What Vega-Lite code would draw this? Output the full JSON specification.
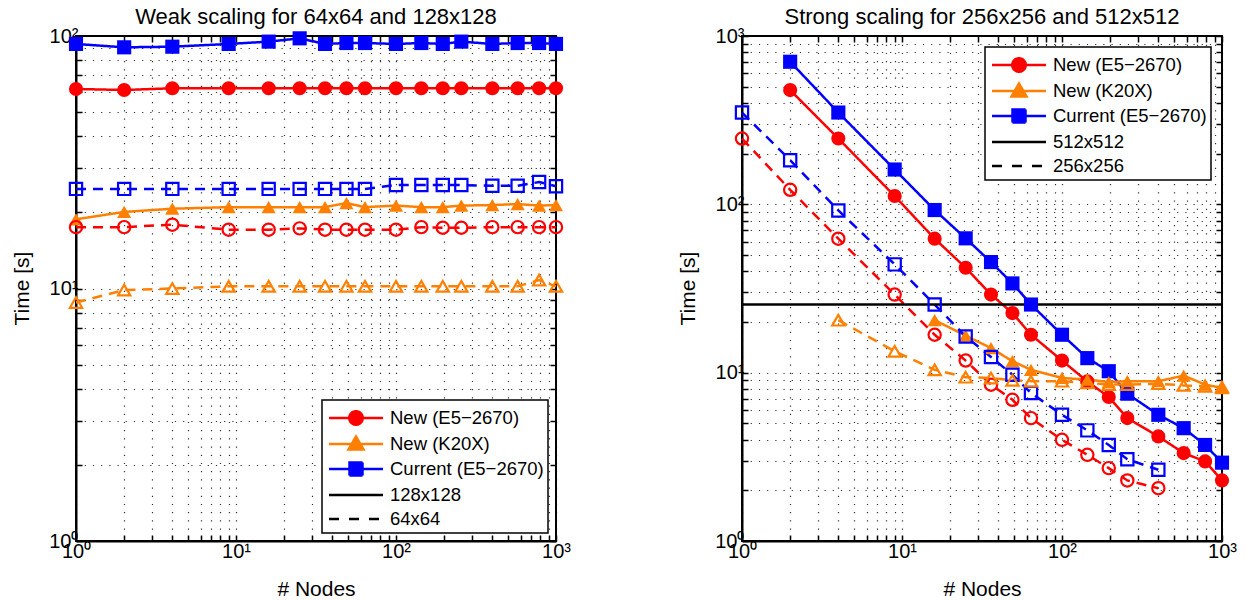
{
  "$schema": "https://vega.github.io/schema/vega-lite/v6.json",
  "padding": {"left": 10, "top": 5, "right": 5, "bottom": 0},
  "spacing": 104,
  "config": {
    "font": "Liberation Sans",
    "view": {"stroke": "#000", "strokeWidth": 2},
    "axis": {
      "domainColor": "#000", "domainWidth": 2,
      "tickColor": "#000", "tickWidth": 1.5, "tickSize": -6,
      "grid": true, "gridColor": "#000", "gridDash": [1.2, 7], "gridWidth": 1.2, "gridOpacity": 0.8,
      "labelFont": "Liberation Sans", "labelFontSize": 20, "labelColor": "#000",
      "titleFont": "Liberation Sans", "titleFontSize": 21, "titleFontWeight": "normal", "titleColor": "#000",
      "labelOverlap": false, "labelFlush": false, "labelBound": false
    },
    "title": {"font": "Liberation Sans", "fontSize": 22, "fontWeight": "normal", "color": "#000", "baseline": "alphabetic", "offset": -3, "anchor": "middle"},
    "legend": {
      "labelFont": "Liberation Sans", "labelFontSize": 18.5, "labelColor": "#000", "labelLimit": 400,
      "symbolSize": 625, "symbolStrokeWidth": 2.5, "symbolOffset": 16, "labelOffset": 20,
      "rowPadding": 0, "padding": 4,
      "strokeColor": "#000", "fillColor": "#fff", "cornerRadius": 0
    }
  },
  "datasets": {
    "weak": [
      {"n": 1, "t": 93, "m": "Current (E5−2670)", "s": "128x128"},
      {"n": 2, "t": 90.2, "m": "Current (E5−2670)", "s": "128x128"},
      {"n": 4, "t": 90.7, "m": "Current (E5−2670)", "s": "128x128"},
      {"n": 9, "t": 93, "m": "Current (E5−2670)", "s": "128x128"},
      {"n": 16, "t": 95, "m": "Current (E5−2670)", "s": "128x128"},
      {"n": 25, "t": 97.9, "m": "Current (E5−2670)", "s": "128x128"},
      {"n": 36, "t": 93, "m": "Current (E5−2670)", "s": "128x128"},
      {"n": 49, "t": 93.8, "m": "Current (E5−2670)", "s": "128x128"},
      {"n": 64, "t": 93.8, "m": "Current (E5−2670)", "s": "128x128"},
      {"n": 100, "t": 93, "m": "Current (E5−2670)", "s": "128x128"},
      {"n": 144, "t": 93.8, "m": "Current (E5−2670)", "s": "128x128"},
      {"n": 196, "t": 93, "m": "Current (E5−2670)", "s": "128x128"},
      {"n": 256, "t": 95, "m": "Current (E5−2670)", "s": "128x128"},
      {"n": 400, "t": 93, "m": "Current (E5−2670)", "s": "128x128"},
      {"n": 576, "t": 93.8, "m": "Current (E5−2670)", "s": "128x128"},
      {"n": 784, "t": 93.8, "m": "Current (E5−2670)", "s": "128x128"},
      {"n": 1000, "t": 93, "m": "Current (E5−2670)", "s": "128x128"},

      {"n": 1, "t": 61.7, "m": "New (E5−2670)", "s": "128x128"},
      {"n": 2, "t": 61.1, "m": "New (E5−2670)", "s": "128x128"},
      {"n": 4, "t": 62.1, "m": "New (E5−2670)", "s": "128x128"},
      {"n": 9, "t": 62.1, "m": "New (E5−2670)", "s": "128x128"},
      {"n": 16, "t": 62.1, "m": "New (E5−2670)", "s": "128x128"},
      {"n": 25, "t": 62.1, "m": "New (E5−2670)", "s": "128x128"},
      {"n": 36, "t": 62.1, "m": "New (E5−2670)", "s": "128x128"},
      {"n": 49, "t": 62.1, "m": "New (E5−2670)", "s": "128x128"},
      {"n": 64, "t": 62.1, "m": "New (E5−2670)", "s": "128x128"},
      {"n": 100, "t": 62.1, "m": "New (E5−2670)", "s": "128x128"},
      {"n": 144, "t": 62.1, "m": "New (E5−2670)", "s": "128x128"},
      {"n": 196, "t": 62.1, "m": "New (E5−2670)", "s": "128x128"},
      {"n": 256, "t": 62.1, "m": "New (E5−2670)", "s": "128x128"},
      {"n": 400, "t": 62.1, "m": "New (E5−2670)", "s": "128x128"},
      {"n": 576, "t": 62.1, "m": "New (E5−2670)", "s": "128x128"},
      {"n": 784, "t": 62.1, "m": "New (E5−2670)", "s": "128x128"},
      {"n": 1000, "t": 62.1, "m": "New (E5−2670)", "s": "128x128"},

      {"n": 1, "t": 18.8, "m": "New (K20X)", "s": "128x128"},
      {"n": 2, "t": 20.1, "m": "New (K20X)", "s": "128x128"},
      {"n": 4, "t": 20.7, "m": "New (K20X)", "s": "128x128"},
      {"n": 9, "t": 21.0, "m": "New (K20X)", "s": "128x128"},
      {"n": 16, "t": 21.0, "m": "New (K20X)", "s": "128x128"},
      {"n": 25, "t": 21.0, "m": "New (K20X)", "s": "128x128"},
      {"n": 36, "t": 21.0, "m": "New (K20X)", "s": "128x128"},
      {"n": 49, "t": 21.8, "m": "New (K20X)", "s": "128x128"},
      {"n": 64, "t": 21.0, "m": "New (K20X)", "s": "128x128"},
      {"n": 100, "t": 21.3, "m": "New (K20X)", "s": "128x128"},
      {"n": 144, "t": 21.0, "m": "New (K20X)", "s": "128x128"},
      {"n": 196, "t": 21.0, "m": "New (K20X)", "s": "128x128"},
      {"n": 256, "t": 21.3, "m": "New (K20X)", "s": "128x128"},
      {"n": 400, "t": 21.4, "m": "New (K20X)", "s": "128x128"},
      {"n": 576, "t": 21.6, "m": "New (K20X)", "s": "128x128"},
      {"n": 784, "t": 21.3, "m": "New (K20X)", "s": "128x128"},
      {"n": 1000, "t": 21.4, "m": "New (K20X)", "s": "128x128"},

      {"n": 1, "t": 24.8, "m": "Current (E5−2670)", "s": "64x64"},
      {"n": 2, "t": 24.8, "m": "Current (E5−2670)", "s": "64x64"},
      {"n": 4, "t": 24.8, "m": "Current (E5−2670)", "s": "64x64"},
      {"n": 9, "t": 24.8, "m": "Current (E5−2670)", "s": "64x64"},
      {"n": 16, "t": 24.8, "m": "Current (E5−2670)", "s": "64x64"},
      {"n": 25, "t": 24.8, "m": "Current (E5−2670)", "s": "64x64"},
      {"n": 36, "t": 24.8, "m": "Current (E5−2670)", "s": "64x64"},
      {"n": 49, "t": 24.8, "m": "Current (E5−2670)", "s": "64x64"},
      {"n": 64, "t": 24.8, "m": "Current (E5−2670)", "s": "64x64"},
      {"n": 100, "t": 25.7, "m": "Current (E5−2670)", "s": "64x64"},
      {"n": 144, "t": 25.7, "m": "Current (E5−2670)", "s": "64x64"},
      {"n": 196, "t": 25.7, "m": "Current (E5−2670)", "s": "64x64"},
      {"n": 256, "t": 25.7, "m": "Current (E5−2670)", "s": "64x64"},
      {"n": 400, "t": 25.5, "m": "Current (E5−2670)", "s": "64x64"},
      {"n": 576, "t": 25.5, "m": "Current (E5−2670)", "s": "64x64"},
      {"n": 784, "t": 26.4, "m": "Current (E5−2670)", "s": "64x64"},
      {"n": 1000, "t": 25.4, "m": "Current (E5−2670)", "s": "64x64"},

      {"n": 1, "t": 17.5, "m": "New (E5−2670)", "s": "64x64"},
      {"n": 2, "t": 17.5, "m": "New (E5−2670)", "s": "64x64"},
      {"n": 4, "t": 17.9, "m": "New (E5−2670)", "s": "64x64"},
      {"n": 9, "t": 17.1, "m": "New (E5−2670)", "s": "64x64"},
      {"n": 16, "t": 17.1, "m": "New (E5−2670)", "s": "64x64"},
      {"n": 25, "t": 17.3, "m": "New (E5−2670)", "s": "64x64"},
      {"n": 36, "t": 17.1, "m": "New (E5−2670)", "s": "64x64"},
      {"n": 49, "t": 17.1, "m": "New (E5−2670)", "s": "64x64"},
      {"n": 64, "t": 17.1, "m": "New (E5−2670)", "s": "64x64"},
      {"n": 100, "t": 17.1, "m": "New (E5−2670)", "s": "64x64"},
      {"n": 144, "t": 17.5, "m": "New (E5−2670)", "s": "64x64"},
      {"n": 196, "t": 17.4, "m": "New (E5−2670)", "s": "64x64"},
      {"n": 256, "t": 17.4, "m": "New (E5−2670)", "s": "64x64"},
      {"n": 400, "t": 17.5, "m": "New (E5−2670)", "s": "64x64"},
      {"n": 576, "t": 17.5, "m": "New (E5−2670)", "s": "64x64"},
      {"n": 784, "t": 17.5, "m": "New (E5−2670)", "s": "64x64"},
      {"n": 1000, "t": 17.5, "m": "New (E5−2670)", "s": "64x64"},

      {"n": 1, "t": 8.8, "m": "New (K20X)", "s": "64x64"},
      {"n": 2, "t": 9.86, "m": "New (K20X)", "s": "64x64"},
      {"n": 4, "t": 10.0, "m": "New (K20X)", "s": "64x64"},
      {"n": 9, "t": 10.2, "m": "New (K20X)", "s": "64x64"},
      {"n": 16, "t": 10.2, "m": "New (K20X)", "s": "64x64"},
      {"n": 25, "t": 10.2, "m": "New (K20X)", "s": "64x64"},
      {"n": 36, "t": 10.2, "m": "New (K20X)", "s": "64x64"},
      {"n": 49, "t": 10.2, "m": "New (K20X)", "s": "64x64"},
      {"n": 64, "t": 10.2, "m": "New (K20X)", "s": "64x64"},
      {"n": 100, "t": 10.2, "m": "New (K20X)", "s": "64x64"},
      {"n": 144, "t": 10.2, "m": "New (K20X)", "s": "64x64"},
      {"n": 196, "t": 10.2, "m": "New (K20X)", "s": "64x64"},
      {"n": 256, "t": 10.2, "m": "New (K20X)", "s": "64x64"},
      {"n": 400, "t": 10.2, "m": "New (K20X)", "s": "64x64"},
      {"n": 576, "t": 10.2, "m": "New (K20X)", "s": "64x64"},
      {"n": 784, "t": 10.8, "m": "New (K20X)", "s": "64x64"},
      {"n": 1000, "t": 10.2, "m": "New (K20X)", "s": "64x64"}
    ],
    "strong": [
      {"n": 2, "t": 703, "m": "Current (E5−2670)", "s": "512x512"},
      {"n": 4, "t": 351, "m": "Current (E5−2670)", "s": "512x512"},
      {"n": 9, "t": 161, "m": "Current (E5−2670)", "s": "512x512"},
      {"n": 16, "t": 92.5, "m": "Current (E5−2670)", "s": "512x512"},
      {"n": 25, "t": 62.8, "m": "Current (E5−2670)", "s": "512x512"},
      {"n": 36, "t": 45.4, "m": "Current (E5−2670)", "s": "512x512"},
      {"n": 49, "t": 33.9, "m": "Current (E5−2670)", "s": "512x512"},
      {"n": 64, "t": 25.4, "m": "Current (E5−2670)", "s": "512x512"},
      {"n": 100, "t": 16.8, "m": "Current (E5−2670)", "s": "512x512"},
      {"n": 144, "t": 12.2, "m": "Current (E5−2670)", "s": "512x512"},
      {"n": 196, "t": 10.2, "m": "Current (E5−2670)", "s": "512x512"},
      {"n": 256, "t": 7.5, "m": "Current (E5−2670)", "s": "512x512"},
      {"n": 400, "t": 5.62, "m": "Current (E5−2670)", "s": "512x512"},
      {"n": 576, "t": 4.68, "m": "Current (E5−2670)", "s": "512x512"},
      {"n": 784, "t": 3.72, "m": "Current (E5−2670)", "s": "512x512"},
      {"n": 1000, "t": 2.92, "m": "Current (E5−2670)", "s": "512x512"},

      {"n": 2, "t": 477, "m": "New (E5−2670)", "s": "512x512"},
      {"n": 4, "t": 246, "m": "New (E5−2670)", "s": "512x512"},
      {"n": 9, "t": 112, "m": "New (E5−2670)", "s": "512x512"},
      {"n": 16, "t": 62.5, "m": "New (E5−2670)", "s": "512x512"},
      {"n": 25, "t": 42, "m": "New (E5−2670)", "s": "512x512"},
      {"n": 36, "t": 29.1, "m": "New (E5−2670)", "s": "512x512"},
      {"n": 49, "t": 22.6, "m": "New (E5−2670)", "s": "512x512"},
      {"n": 64, "t": 16.8, "m": "New (E5−2670)", "s": "512x512"},
      {"n": 100, "t": 11.8, "m": "New (E5−2670)", "s": "512x512"},
      {"n": 144, "t": 8.87, "m": "New (E5−2670)", "s": "512x512"},
      {"n": 196, "t": 7.17, "m": "New (E5−2670)", "s": "512x512"},
      {"n": 256, "t": 5.37, "m": "New (E5−2670)", "s": "512x512"},
      {"n": 400, "t": 4.18, "m": "New (E5−2670)", "s": "512x512"},
      {"n": 576, "t": 3.33, "m": "New (E5−2670)", "s": "512x512"},
      {"n": 784, "t": 2.97, "m": "New (E5−2670)", "s": "512x512"},
      {"n": 1000, "t": 2.29, "m": "New (E5−2670)", "s": "512x512"},

      {"n": 16, "t": 20.5, "m": "New (K20X)", "s": "512x512"},
      {"n": 25, "t": 16.6, "m": "New (K20X)", "s": "512x512"},
      {"n": 36, "t": 14.0, "m": "New (K20X)", "s": "512x512"},
      {"n": 49, "t": 11.7, "m": "New (K20X)", "s": "512x512"},
      {"n": 64, "t": 10.4, "m": "New (K20X)", "s": "512x512"},
      {"n": 100, "t": 9.3, "m": "New (K20X)", "s": "512x512"},
      {"n": 144, "t": 9.1, "m": "New (K20X)", "s": "512x512"},
      {"n": 196, "t": 8.8, "m": "New (K20X)", "s": "512x512"},
      {"n": 256, "t": 8.9, "m": "New (K20X)", "s": "512x512"},
      {"n": 400, "t": 8.9, "m": "New (K20X)", "s": "512x512"},
      {"n": 576, "t": 9.6, "m": "New (K20X)", "s": "512x512"},
      {"n": 784, "t": 8.5, "m": "New (K20X)", "s": "512x512"},
      {"n": 1000, "t": 8.1, "m": "New (K20X)", "s": "512x512"},

      {"n": 1, "t": 351, "m": "Current (E5−2670)", "s": "256x256"},
      {"n": 2, "t": 183, "m": "Current (E5−2670)", "s": "256x256"},
      {"n": 4, "t": 92, "m": "Current (E5−2670)", "s": "256x256"},
      {"n": 9, "t": 44, "m": "Current (E5−2670)", "s": "256x256"},
      {"n": 16, "t": 25.4, "m": "Current (E5−2670)", "s": "256x256"},
      {"n": 25, "t": 16.4, "m": "Current (E5−2670)", "s": "256x256"},
      {"n": 36, "t": 12.4, "m": "Current (E5−2670)", "s": "256x256"},
      {"n": 49, "t": 9.73, "m": "Current (E5−2670)", "s": "256x256"},
      {"n": 64, "t": 7.57, "m": "Current (E5−2670)", "s": "256x256"},
      {"n": 100, "t": 5.62, "m": "Current (E5−2670)", "s": "256x256"},
      {"n": 144, "t": 4.54, "m": "Current (E5−2670)", "s": "256x256"},
      {"n": 196, "t": 3.72, "m": "Current (E5−2670)", "s": "256x256"},
      {"n": 256, "t": 3.06, "m": "Current (E5−2670)", "s": "256x256"},
      {"n": 400, "t": 2.65, "m": "Current (E5−2670)", "s": "256x256"},

      {"n": 1, "t": 246, "m": "New (E5−2670)", "s": "256x256"},
      {"n": 2, "t": 122, "m": "New (E5−2670)", "s": "256x256"},
      {"n": 4, "t": 62.5, "m": "New (E5−2670)", "s": "256x256"},
      {"n": 9, "t": 29.1, "m": "New (E5−2670)", "s": "256x256"},
      {"n": 16, "t": 16.8, "m": "New (E5−2670)", "s": "256x256"},
      {"n": 25, "t": 11.8, "m": "New (E5−2670)", "s": "256x256"},
      {"n": 36, "t": 8.48, "m": "New (E5−2670)", "s": "256x256"},
      {"n": 49, "t": 6.9, "m": "New (E5−2670)", "s": "256x256"},
      {"n": 64, "t": 5.37, "m": "New (E5−2670)", "s": "256x256"},
      {"n": 100, "t": 3.99, "m": "New (E5−2670)", "s": "256x256"},
      {"n": 144, "t": 3.25, "m": "New (E5−2670)", "s": "256x256"},
      {"n": 196, "t": 2.71, "m": "New (E5−2670)", "s": "256x256"},
      {"n": 256, "t": 2.29, "m": "New (E5−2670)", "s": "256x256"},
      {"n": 400, "t": 2.06, "m": "New (E5−2670)", "s": "256x256"},

      {"n": 4, "t": 20.5, "m": "New (K20X)", "s": "256x256"},
      {"n": 9, "t": 13.4, "m": "New (K20X)", "s": "256x256"},
      {"n": 16, "t": 10.4, "m": "New (K20X)", "s": "256x256"},
      {"n": 25, "t": 9.4, "m": "New (K20X)", "s": "256x256"},
      {"n": 36, "t": 9.3, "m": "New (K20X)", "s": "256x256"},
      {"n": 49, "t": 9.0, "m": "New (K20X)", "s": "256x256"},
      {"n": 64, "t": 8.9, "m": "New (K20X)", "s": "256x256"},
      {"n": 100, "t": 8.9, "m": "New (K20X)", "s": "256x256"},
      {"n": 144, "t": 8.7, "m": "New (K20X)", "s": "256x256"},
      {"n": 196, "t": 8.5, "m": "New (K20X)", "s": "256x256"},
      {"n": 256, "t": 8.5, "m": "New (K20X)", "s": "256x256"},
      {"n": 400, "t": 8.6, "m": "New (K20X)", "s": "256x256"},
      {"n": 576, "t": 8.4, "m": "New (K20X)", "s": "256x256"},
      {"n": 784, "t": 8.3, "m": "New (K20X)", "s": "256x256"},
      {"n": 1000, "t": 8.2, "m": "New (K20X)", "s": "256x256"}
    ],
    "strongref": [
      {"t": 25.4, "m": "512x512"}
    ]
  },
  "resolve": {"scale": {"color": "independent", "shape": "independent", "strokeDash": "independent", "y": "independent", "x": "independent"}, "legend": {"color": "independent"}},
  "hconcat": [
    {
      "title": "Weak scaling for 64x64 and 128x128",
      "width": 480, "height": 505,
      "data": {"name": "weak"},
      "resolve": {"axis": {"x": "independent", "y": "independent"}},
      "layer": [
        {
          "mark": {"type": "line", "strokeWidth": 2.5},
          "encoding": {
            "x": {"field": "n", "type": "quantitative", "scale": {"type": "log", "domain": [1, 1000]},
                  "axis": {"orient": "top", "labels": false, "grid": false, "title": null, "domain": false,
                           "values": [1,2,3,4,5,6,7,8,9,10,20,30,40,50,60,70,80,90,100,200,300,400,500,600,700,800,900,1000]}},
            "y": {"field": "t", "type": "quantitative", "scale": {"type": "log", "domain": [1, 100]},
                  "axis": {"orient": "right", "labels": false, "grid": false, "title": null, "domain": false,
                           "values": [1,2,3,4,5,6,7,8,9,10,20,30,40,50,60,70,80,90,100]}},
            "color": {"field": "m", "type": "nominal",
                      "scale": {"domain": ["New (E5−2670)", "New (K20X)", "Current (E5−2670)", "128x128", "64x64"], "range": ["#ff0000", "#ff8000", "#0000ff", "#000000", "#000000"]},
                      "legend": {"orient": "bottom-right", "offset": 8, "title": null,
                        "encode": {
                          "legend": {"update": {"stroke": {"value": "#000"}, "strokeWidth": {"value": 1.5}, "fill": {"value": "#fff"}}},
                          "symbols": {"update": {
                            "shape": {"signal": "datum.value === 'New (E5−2670)' ? 'M-2.16,0H2.16M-0.54,0A0.54,0.54,0,1,1,0.54,0A0.54,0.54,0,1,1,-0.54,0Z' : datum.value === 'New (K20X)' ? 'M-2.16,0H2.16M0,-0.6L0.6,0.44L-0.6,0.44Z' : datum.value === 'Current (E5−2670)' ? 'M-2.16,0H2.16M-0.52,-0.52H0.52V0.52H-0.52Z' : 'M-2.16,0H2.16'"},
                            "stroke": {"signal": "datum.value === 'New (E5−2670)' ? '#ff0000' : datum.value === 'New (K20X)' ? '#ff8000' : datum.value === 'Current (E5−2670)' ? '#0000ff' : '#000000'"},
                            "fill": {"signal": "datum.value === 'New (E5−2670)' ? '#ff0000' : datum.value === 'New (K20X)' ? '#ff8000' : datum.value === 'Current (E5−2670)' ? '#0000ff' : '#000000'"},
                            "strokeDash": {"signal": "datum.value === '64x64' ? [10, 10] : [1, 0]"},
                            "strokeWidth": {"value": 2.5},
                            "opacity": {"value": 1}
                          }}
                        }}},
            "strokeDash": {"field": "s", "type": "nominal", "scale": {"domain": ["128x128", "64x64"], "range": [[1, 0], [10, 7]]}, "legend": null}
          }
        },
        {
          "transform": [{"filter": "datum.s === '128x128'"}],
          "mark": {"type": "point", "filled": true, "size": 200, "opacity": 1},
          "encoding": {
            "x": {"field": "n", "type": "quantitative", "scale": {"type": "log", "domain": [1, 1000]},
                  "axis": {"orient": "bottom", "grid": true, "title": "# Nodes", "titleBaseline": "alphabetic", "titleY": 54, "labelPadding": 6,
                           "values": [1,2,3,4,5,6,7,8,9,10,20,30,40,50,60,70,80,90,100,200,300,400,500,600,700,800,900,1000],
                           "labelExpr": "datum.value == 1 ? '10⁰' : datum.value == 10 ? '10¹' : datum.value == 100 ? '10²' : datum.value == 1000 ? '10³' : ''"}},
            "y": {"field": "t", "type": "quantitative", "scale": {"type": "log", "domain": [1, 100]},
                  "axis": {"orient": "left", "grid": true, "title": "Time [s]", "titleBaseline": "alphabetic", "titleX": -48, "titleY": 252, "labelPadding": 4,
                           "values": [1,2,3,4,5,6,7,8,9,10,20,30,40,50,60,70,80,90,100],
                           "labelExpr": "datum.value == 1 ? '10⁰' : datum.value == 10 ? '10¹' : datum.value == 100 ? '10²' : datum.value == 1000 ? '10³' : ''"}},
            "color": {"field": "m", "type": "nominal",
                      "scale": {"domain": ["New (E5−2670)", "New (K20X)", "Current (E5−2670)", "128x128", "64x64"], "range": ["#ff0000", "#ff8000", "#0000ff", "#000000", "#000000"]}},
            "shape": {"field": "m", "type": "nominal", "scale": {"domain": ["New (E5−2670)", "New (K20X)", "Current (E5−2670)"], "range": ["circle", "triangle-up", "square"]}, "legend": null}
          }
        },
        {
          "transform": [{"filter": "datum.s === '64x64'"}],
          "mark": {"type": "point", "filled": false, "size": 150, "opacity": 1, "strokeWidth": 2.2},
          "encoding": {
            "x": {"field": "n", "type": "quantitative", "scale": {"type": "log", "domain": [1, 1000]}, "axis": null},
            "y": {"field": "t", "type": "quantitative", "scale": {"type": "log", "domain": [1, 100]}, "axis": null},
            "color": {"field": "m", "type": "nominal",
                      "scale": {"domain": ["New (E5−2670)", "New (K20X)", "Current (E5−2670)", "128x128", "64x64"], "range": ["#ff0000", "#ff8000", "#0000ff", "#000000", "#000000"]}},
            "shape": {"field": "m", "type": "nominal", "scale": {"domain": ["New (E5−2670)", "New (K20X)", "Current (E5−2670)"], "range": ["circle", "triangle-up", "square"]}, "legend": null}
          }
        }
      ]
    },
    {
      "title": "Strong scaling for 256x256 and 512x512",
      "width": 480, "height": 505,
      "data": {"name": "strong"},
      "resolve": {"axis": {"x": "independent", "y": "independent"}},
      "layer": [
        {
          "mark": {"type": "line", "strokeWidth": 2.5},
          "encoding": {
            "x": {"field": "n", "type": "quantitative", "scale": {"type": "log", "domain": [1, 1000]},
                  "axis": {"orient": "top", "labels": false, "grid": false, "title": null, "domain": false,
                           "values": [1,2,3,4,5,6,7,8,9,10,20,30,40,50,60,70,80,90,100,200,300,400,500,600,700,800,900,1000]}},
            "y": {"field": "t", "type": "quantitative", "scale": {"type": "log", "domain": [1, 1000]},
                  "axis": {"orient": "right", "labels": false, "grid": false, "title": null, "domain": false,
                           "values": [1,2,3,4,5,6,7,8,9,10,20,30,40,50,60,70,80,90,100,200,300,400,500,600,700,800,900,1000]}},
            "color": {"field": "m", "type": "nominal",
                      "scale": {"domain": ["New (E5−2670)", "New (K20X)", "Current (E5−2670)", "512x512", "256x256"], "range": ["#ff0000", "#ff8000", "#0000ff", "#000000", "#000000"]},
                      "legend": {"orient": "top-right", "offset": 11, "title": null,
                        "encode": {
                          "legend": {"update": {"stroke": {"value": "#000"}, "strokeWidth": {"value": 1.5}, "fill": {"value": "#fff"}}},
                          "symbols": {"update": {
                            "shape": {"signal": "datum.value === 'New (E5−2670)' ? 'M-2.16,0H2.16M-0.54,0A0.54,0.54,0,1,1,0.54,0A0.54,0.54,0,1,1,-0.54,0Z' : datum.value === 'New (K20X)' ? 'M-2.16,0H2.16M0,-0.6L0.6,0.44L-0.6,0.44Z' : datum.value === 'Current (E5−2670)' ? 'M-2.16,0H2.16M-0.52,-0.52H0.52V0.52H-0.52Z' : 'M-2.16,0H2.16'"},
                            "stroke": {"signal": "datum.value === 'New (E5−2670)' ? '#ff0000' : datum.value === 'New (K20X)' ? '#ff8000' : datum.value === 'Current (E5−2670)' ? '#0000ff' : '#000000'"},
                            "fill": {"signal": "datum.value === 'New (E5−2670)' ? '#ff0000' : datum.value === 'New (K20X)' ? '#ff8000' : datum.value === 'Current (E5−2670)' ? '#0000ff' : '#000000'"},
                            "strokeDash": {"signal": "datum.value === '256x256' ? [10, 10] : [1, 0]"},
                            "strokeWidth": {"value": 2.5},
                            "opacity": {"value": 1}
                          }}
                        }}},
            "strokeDash": {"field": "s", "type": "nominal", "scale": {"domain": ["512x512", "256x256"], "range": [[1, 0], [10, 7]]}, "legend": null}
          }
        },
        {
          "data": {"name": "strongref"},
          "mark": {"type": "rule", "strokeWidth": 2.5},
          "encoding": {
            "y": {"field": "t", "type": "quantitative", "scale": {"type": "log", "domain": [1, 1000]}, "axis": null},
            "color": {"field": "m", "type": "nominal",
                      "scale": {"domain": ["New (E5−2670)", "New (K20X)", "Current (E5−2670)", "512x512", "256x256"], "range": ["#ff0000", "#ff8000", "#0000ff", "#000000", "#000000"]}}
          }
        },
        {
          "transform": [{"filter": "datum.s === '512x512'"}],
          "mark": {"type": "point", "filled": true, "size": 200, "opacity": 1},
          "encoding": {
            "x": {"field": "n", "type": "quantitative", "scale": {"type": "log", "domain": [1, 1000]},
                  "axis": {"orient": "bottom", "grid": true, "title": "# Nodes", "titleBaseline": "alphabetic", "titleY": 54, "labelPadding": 6,
                           "values": [1,2,3,4,5,6,7,8,9,10,20,30,40,50,60,70,80,90,100,200,300,400,500,600,700,800,900,1000],
                           "labelExpr": "datum.value == 1 ? '10⁰' : datum.value == 10 ? '10¹' : datum.value == 100 ? '10²' : datum.value == 1000 ? '10³' : ''"}},
            "y": {"field": "t", "type": "quantitative", "scale": {"type": "log", "domain": [1, 1000]},
                  "axis": {"orient": "left", "grid": true, "title": "Time [s]", "titleBaseline": "alphabetic", "titleX": -48, "titleY": 252, "labelPadding": 4,
                           "values": [1,2,3,4,5,6,7,8,9,10,20,30,40,50,60,70,80,90,100,200,300,400,500,600,700,800,900,1000],
                           "labelExpr": "datum.value == 1 ? '10⁰' : datum.value == 10 ? '10¹' : datum.value == 100 ? '10²' : datum.value == 1000 ? '10³' : ''"}},
            "color": {"field": "m", "type": "nominal",
                      "scale": {"domain": ["New (E5−2670)", "New (K20X)", "Current (E5−2670)", "512x512", "256x256"], "range": ["#ff0000", "#ff8000", "#0000ff", "#000000", "#000000"]}},
            "shape": {"field": "m", "type": "nominal", "scale": {"domain": ["New (E5−2670)", "New (K20X)", "Current (E5−2670)"], "range": ["circle", "triangle-up", "square"]}, "legend": null}
          }
        },
        {
          "transform": [{"filter": "datum.s === '256x256'"}],
          "mark": {"type": "point", "filled": false, "size": 150, "opacity": 1, "strokeWidth": 2.2},
          "encoding": {
            "x": {"field": "n", "type": "quantitative", "scale": {"type": "log", "domain": [1, 1000]}, "axis": null},
            "y": {"field": "t", "type": "quantitative", "scale": {"type": "log", "domain": [1, 1000]}, "axis": null},
            "color": {"field": "m", "type": "nominal",
                      "scale": {"domain": ["New (E5−2670)", "New (K20X)", "Current (E5−2670)", "512x512", "256x256"], "range": ["#ff0000", "#ff8000", "#0000ff", "#000000", "#000000"]}},
            "shape": {"field": "m", "type": "nominal", "scale": {"domain": ["New (E5−2670)", "New (K20X)", "Current (E5−2670)"], "range": ["circle", "triangle-up", "square"]}, "legend": null}
          }
        }
      ]
    }
  ]
}
